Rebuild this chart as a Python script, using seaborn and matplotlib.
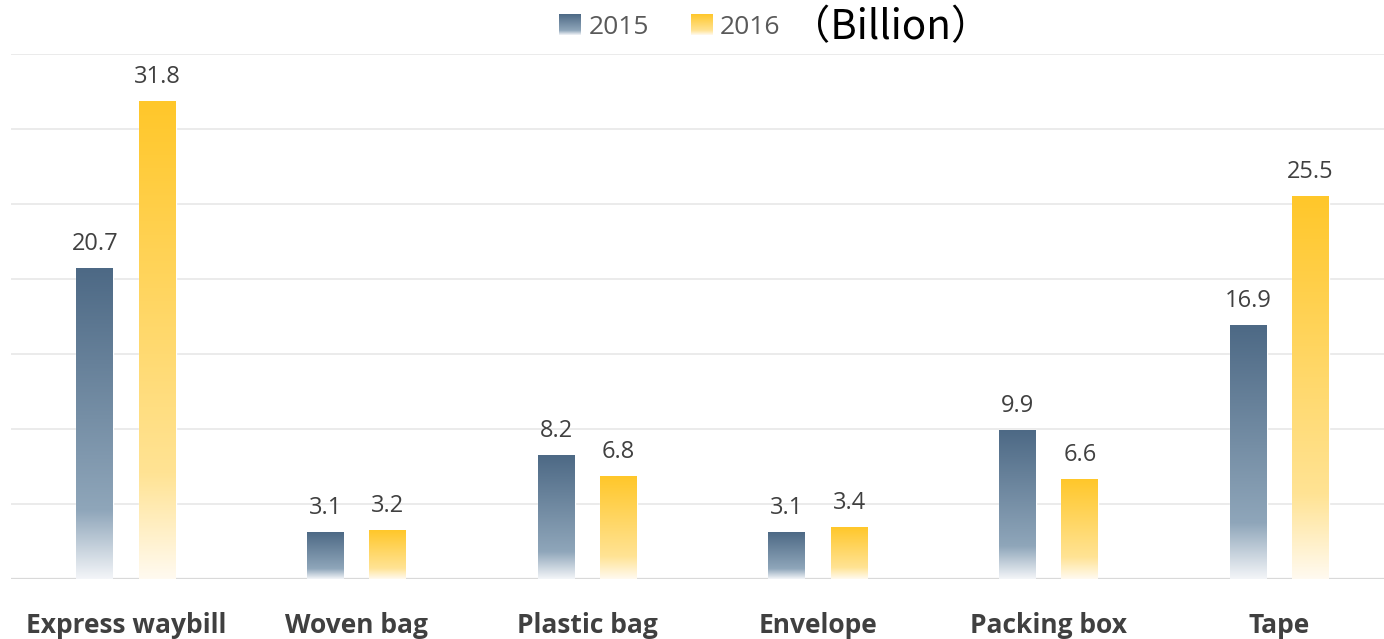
import numpy as np
import pandas as pd
import seaborn as sns
import matplotlib.pyplot as plt
from matplotlib.colors import LinearSegmentedColormap
from matplotlib.patches import Patch

# data (billion pieces)
categories = ["Express waybill", "Woven bag", "Plastic bag", "Envelope", "Packing box", "Tape"]
years = ["2015", "2016"]
values_2015 = [20.7, 3.1, 8.2, 3.1, 9.9, 16.9]
values_2016 = [31.8, 3.2, 6.8, 3.4, 6.6, 25.5]

df = pd.DataFrame({
    "category": categories * 2,
    "year": ["2015"] * len(categories) + ["2016"] * len(categories),
    "value": values_2015 + values_2016,
})

sns.set_style("white")
plt.rcParams["font.family"] = ["Open Sans", "Noto Sans CJK SC", "DejaVu Sans"]

# gradient colormaps: bottom (pale) -> top (full colour)
cmaps = {
    "2015": LinearSegmentedColormap.from_list("blue", [(0, "#f3f5f8"), (0.22, "#8fa6ba"), (1, "#4d6985")]),
    "2016": LinearSegmentedColormap.from_list("gold", [(0, "#fffaf0"), (0.22, "#ffe394"), (1, "#ffc72a")]),
}
solid = {"2015": "#4d6985", "2016": "#ffc72a"}

fig = plt.figure(figsize=(13.84, 6.39), dpi=100)
ax = fig.add_axes([0.0077, 0.0939, 1.0, 0.8216])

sns.barplot(data=df, x="category", y="value", hue="year", order=categories,
            hue_order=years, palette=solid, width=0.54, gap=0.41,
            legend=False, ax=ax)

grad = np.linspace(0, 1, 256).reshape(-1, 1)
for year, cont in zip(years, ax.containers):
    for bar in cont:
        x0 = bar.get_x()
        w = bar.get_width()
        h = bar.get_height()
        ax.imshow(grad, extent=[x0, x0 + w, 0, h], cmap=cmaps[year],
                  aspect="auto", origin="lower", zorder=2)
        bar.set_facecolor("none")
    ax.bar_label(cont, fmt="%.1f", padding=9, fontsize=17, color="#404040")

ax.set_xlim(-0.5, 5.5)
ax.set_ylim(0, 35)
ax.set_yticks(np.arange(0, 36, 5))
ax.yaxis.grid(True, color="#e9e9e9", lw=1.3, zorder=0)
ax.set_axisbelow(True)
ax.axhline(0, color="#d9d9d9", lw=1.6, zorder=1)
ax.tick_params(axis="y", left=False, labelleft=False)
ax.tick_params(axis="x", bottom=False, pad=20)
for lbl in ax.get_xticklabels():
    lbl.set_fontsize(19)
    lbl.set_fontweight("bold")
    lbl.set_color("#404040")
ax.set_xlabel("")
ax.set_ylabel("")
sns.despine(ax=ax, left=True, bottom=True)

# legend with gradient swatches
handles = [Patch(facecolor=solid[y], label=y) for y in years]
leg = fig.legend(handles=handles, ncol=2, loc="center",
                 bbox_to_anchor=(670 / 1384, 1 - 27 / 639), frameon=False,
                 fontsize=19, handlelength=0.8, handleheight=0.8,
                 handletextpad=0.3, columnspacing=1.6, labelcolor="#595959")
fig.text(790 / 1384, 1 - 28 / 639, "（Billion）", fontsize=29, color="#000000",
         ha="left", va="center", family=["Noto Sans CJK SC", "DejaVu Sans"])

fig.canvas.draw()
inv = fig.transFigure.inverted()
for year, p in zip(years, leg.get_patches()):
    bb = p.get_window_extent().transformed(inv)
    sw = fig.add_axes(bb.bounds)
    sw.imshow(grad, cmap=cmaps[year], aspect="auto", origin="lower")
    sw.axis("off")
    p.set_visible(False)

fig.savefig("out.png", dpi=100)
